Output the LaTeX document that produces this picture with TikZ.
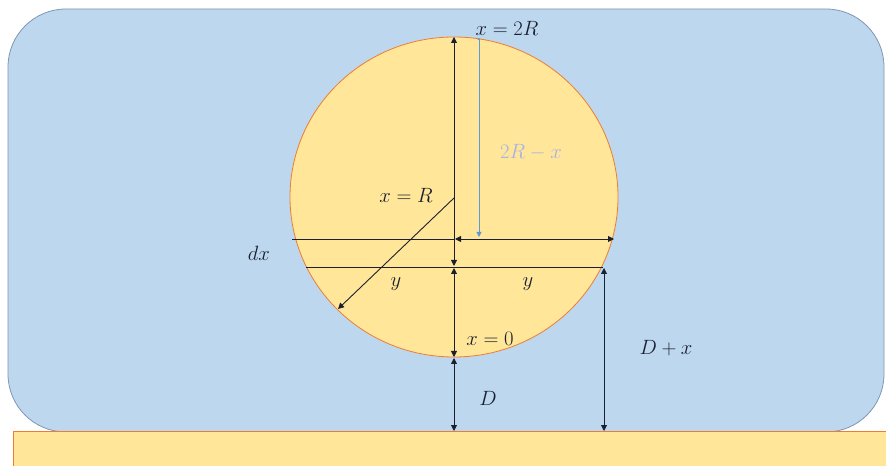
\documentclass[tikz,border=0pt]{standalone}
\usetikzlibrary{arrows.meta}
\definecolor{bluefill}{HTML}{BDD7EE}
\definecolor{blueline}{HTML}{7F97B5}
\definecolor{sandfill}{HTML}{FFE699}
\definecolor{orangeline}{HTML}{ED7D31}
\definecolor{faintlabel}{HTML}{A7B2E8}
\definecolor{bluearrow}{HTML}{5B9BD5}
\definecolor{inkline}{HTML}{1A2030}
\begin{document}
\begin{tikzpicture}[x=1bp,y=-1bp,
  dimarrow/.style={line width=0.9bp, draw=inkline, {Triangle[width=6bp,length=6bp]}-{Triangle[width=6bp,length=6bp]}},
  onearrow/.style={line width=0.9bp, draw=inkline, -{Triangle[width=6bp,length=6bp]}},
  plainline/.style={line width=0.9bp, draw=inkline},
  lbl/.style={font=\fontsize{19.5}{23}\selectfont, inner sep=0pt, text=inkline}]
\useasboundingbox (0,0) rectangle (886,466);
\fill[white] (0,0) rectangle (886,466);
% fluid
\draw[fill=bluefill, draw=blueline, line width=0.8bp, rounded corners=58bp] (8,9) rectangle (884,432);
% ground
\fill[sandfill] (13,431) rectangle (886,466);
\draw[orangeline, line width=0.9bp] (13,466) -- (13,431) -- (886,431);
% cylinder
\draw[fill=sandfill, draw=orangeline, line width=0.8bp] (454,197) ellipse [x radius=164bp, y radius=160bp];
% coordinates
\coordinate (top) at (454,37);
\coordinate (ctr) at (454,198);
\coordinate (midA) at (454,266);
\coordinate (midB) at (454,268);
\coordinate (botA) at (454,357);
\coordinate (botB) at (454,358);
\coordinate (ground) at (454,431);
\coordinate (uL) at (292,239);
\coordinate (uM) at (455,239);
\coordinate (uR) at (614,239);
\coordinate (lL) at (306,267);
\coordinate (lRt) at (603,267);
\coordinate (rT) at (604,268);
\coordinate (rB) at (604,431);
\coordinate (rad) at (338,309);
\coordinate (bT) at (479,38);
\coordinate (bB) at (479,237);
% chords
\draw[plainline] (uL) -- (uM);
\draw[dimarrow] (uM) -- (uR);
\draw[plainline] (lL) -- (lRt);
% verticals
\draw[dimarrow] (midA) -- (top);
\draw[dimarrow] (midB) -- (botA);
\draw[dimarrow] (botB) -- (ground);
\draw[dimarrow] (rT) -- (rB);
% radius
\draw[onearrow] (ctr) -- (rad);
% 2R-x arrow
\draw[line width=0.8bp, bluearrow, {Triangle[width=3bp,length=2bp]}-{Triangle[width=5bp,length=5bp]}] (bT) -- (bB);
% labels
\node[lbl] (l2R) at (507,28) {$x=2R$};
\node[lbl, text=faintlabel] (l2Rx) at (531,152) {$2R-x$};
\node[lbl] (lxR) at (406,195) {$x=R$};
\node[lbl] (ldx) at (259,253) {$dx$};
\node[lbl] (ly1) at (396,284) {$y$};
\node[lbl] (ly2) at (528,284) {$y$};
\node[lbl] (l0) at (490,339) {$x=0$};
\node[lbl] (lD) at (488,398) {$D$};
\node[lbl] (lDx) at (666,348) {$D+x$};
\end{tikzpicture}
\end{document}
